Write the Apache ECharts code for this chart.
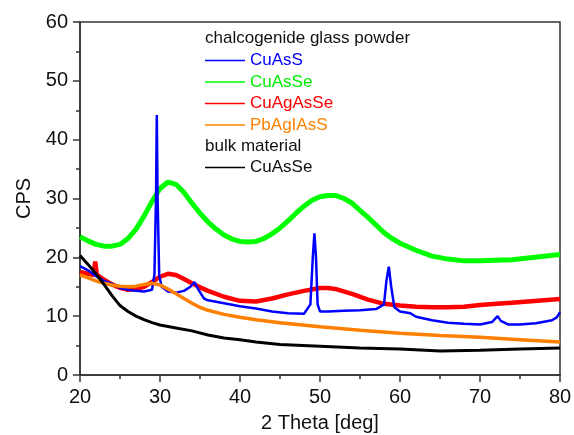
<!DOCTYPE html>
<html>
<head>
<meta charset="utf-8">
<script src="https://cdn.jsdelivr.net/npm/echarts@6/dist/echarts.min.js"></script>
<style>
  html, body { margin: 0; padding: 0; background: #fff; }
  #chart { width: 574px; height: 435px; }
</style>
</head>
<body>
<div id="chart"></div>
<script>
// values (2 Theta in deg, CPS)
const greenX = [20, 21, 22, 23, 24, 25, 26, 27, 28, 29, 30, 31, 32, 33, 34, 35, 36, 37, 38, 39, 40, 41, 42, 43, 44, 45, 46, 47, 48, 49, 50, 51, 52, 53, 54, 55, 56, 57, 58, 59, 60, 62, 64, 66, 68, 70, 72, 74, 76, 78, 80]
const greenY = [23.5, 22.8, 22.2, 21.9, 21.9, 22.2, 23.2, 24.8, 27, 29.5, 31.7, 32.8, 32.4, 31, 29.2, 27.5, 26, 24.8, 23.8, 23.1, 22.7, 22.6, 22.7, 23.2, 24, 25, 26.2, 27.5, 28.7, 29.7, 30.3, 30.5, 30.5, 30, 29.2, 28, 26.8, 25.5, 24.2, 23.2, 22.4, 21.2, 20.2, 19.7, 19.4, 19.4, 19.5, 19.6, 19.9, 20.2, 20.5]

const blueX = [20, 21, 22, 23, 24, 25, 26, 27, 28, 29, 29.3, 29.5, 29.6, 29.7, 29.9, 30.2, 31, 32, 33, 33.8, 34.3, 34.8, 35.5, 36, 38, 40, 42, 44, 46, 48, 48.8, 49.1, 49.3, 49.5, 49.7, 50, 51, 53, 55, 57, 58, 58.3, 58.6, 58.9, 59.3, 60, 61.3, 62, 64, 66, 68, 70, 71.5, 72.2, 72.6, 73.5, 75, 77, 79, 79.6, 80]
const blueY = [18.5, 17.8, 16.8, 16, 15.5, 14.8, 14.5, 14.3, 14.2, 14.5, 17, 30, 44.2, 30, 17, 15, 14.2, 14, 14.3, 15, 15.8, 14.5, 13, 12.7, 12.2, 11.7, 11.3, 10.8, 10.5, 10.4, 12, 20, 24.1, 20, 12, 10.8, 10.8, 10.9, 11, 11.2, 12, 16, 18.4, 15, 11.5, 10.8, 10.5, 9.9, 9.3, 8.9, 8.7, 8.6, 9, 10, 9.2, 8.6, 8.6, 8.8, 9.3, 9.8, 10.7]

const redX = [20, 21, 21.7, 21.9, 22.1, 23, 24, 25, 26, 27, 28, 29, 30, 31, 32, 33, 34, 35, 36, 38, 40, 42, 44, 46, 48, 50, 51, 52, 54, 56, 58, 60, 62, 64, 66, 68, 70, 72, 74, 76, 78, 80]
const redY = [17.5, 17.2, 17, 19.3, 17, 16.2, 15.4, 14.8, 14.5, 14.6, 15, 15.8, 16.7, 17.2, 17, 16.3, 15.6, 14.9, 14.3, 13.3, 12.6, 12.5, 13, 13.7, 14.3, 14.8, 14.8, 14.6, 13.8, 12.8, 12.1, 11.8, 11.6, 11.5, 11.5, 11.6, 11.9, 12.1, 12.3, 12.5, 12.7, 12.9]

const orangeX = [20, 21, 22, 23, 24, 25, 26, 27, 28, 29, 30, 31, 32, 33, 34, 35, 36, 38, 40, 42, 45, 50, 55, 60, 65, 70, 75, 80]
const orangeY = [17, 16.5, 16, 15.6, 15.3, 15.1, 15, 15.1, 15.4, 15.6, 15.3, 14.6, 13.8, 13, 12.2, 11.5, 11, 10.3, 9.8, 9.4, 8.9, 8.2, 7.6, 7.1, 6.7, 6.4, 6, 5.6]

const blackX = [20, 21, 22, 23, 24, 25, 26, 27, 28, 29, 30, 32, 34, 36, 38, 40, 42, 45, 50, 55, 60, 65, 70, 75, 80]
const blackY = [20.3, 18.8, 17.2, 15.4, 13.5, 11.8, 10.8, 10, 9.4, 8.9, 8.5, 8, 7.5, 6.8, 6.3, 6, 5.6, 5.2, 4.9, 4.6, 4.4, 4.1, 4.2, 4.4, 4.6]

const xTicks = [20, 30, 40, 50, 60, 70, 80]
const yTicks = [0, 10, 20, 30, 40, 50, 60]

const zip = (xs, ys) => xs.map((x, i) => [x, ys[i]])

const font = 'Liberation Sans, Arial, sans-serif'
const chart = echarts.init(document.getElementById('chart'))

const line = (name, xs, ys, color, width) => ({
  name,
  type: 'line',
  data: zip(xs, ys),
  showSymbol: false,
  symbol: 'none',
  animation: false,
  lineStyle: { color, width },
  itemStyle: { color }
})

const legendText = (name, color) => ({ name, textStyle: { color } })

const option = {
  animation: false,
  grid: {
    left: 80, right: 14, top: 22, bottom: 60,
    outerBoundsMode: 'none',
    show: true, borderColor: '#333', borderWidth: 1.5
  },
  xAxis: {
    type: 'value',
    min: xTicks[0], max: xTicks[xTicks.length - 1], interval: 10,
    name: '2 Theta [deg]', nameLocation: 'middle', nameGap: 38,
    nameTextStyle: { fontSize: 20, color: '#111', fontFamily: font },
    axisLine: { lineStyle: { color: '#333', width: 1.5 } },
    axisTick: { inside: false, length: 7, lineStyle: { color: '#333', width: 1.5 } },
    minorTick: { show: true, splitNumber: 2, length: 4, lineStyle: { color: '#333', width: 1.5 } },
    axisLabel: { fontSize: 20, color: '#111', margin: 12, fontFamily: font },
    splitLine: { show: false }
  },
  yAxis: {
    type: 'value',
    min: yTicks[0], max: yTicks[yTicks.length - 1], interval: 10,
    name: 'CPS', nameLocation: 'middle', nameGap: 40,
    nameTextStyle: { fontSize: 20, color: '#111', fontFamily: font },
    axisLine: { show: true, lineStyle: { color: '#333', width: 1.5 } },
    axisTick: { show: true, inside: false, length: 7, lineStyle: { color: '#333', width: 1.5 } },
    minorTick: { show: true, splitNumber: 2, length: 4, lineStyle: { color: '#333', width: 1.5 } },
    axisLabel: { fontSize: 20, color: '#111', margin: 12, fontFamily: font },
    splitLine: { show: false }
  },
  legend: [
    {
      orient: 'vertical', left: 205, top: 52, padding: 0, itemGap: 4.5,
      itemWidth: 40, itemHeight: 1.5, icon: 'rect', selectedMode: false,
      textStyle: { fontSize: 17, fontFamily: font },
      data: [
        legendText('CuAsS', '#0000ff'),
        legendText('CuAsSe', '#00ee00'),
        legendText('CuAgAsSe', '#ff0000'),
        legendText('PbAgIAsS', '#ff8000')
      ]
    },
    {
      orient: 'vertical', left: 205, top: 159, padding: 0,
      itemWidth: 40, itemHeight: 1.5, icon: 'rect', selectedMode: false,
      textStyle: { fontSize: 17, fontFamily: font, color: '#111' },
      formatter: name => name.replace(' bulk', ''),
      data: ['CuAsSe bulk']
    }
  ],
  graphic: [
    { type: 'text', left: 205, top: 30, style: { text: 'chalcogenide glass powder', fontSize: 17, fontFamily: font, fill: '#111' } },
    { type: 'text', left: 205, top: 138, style: { text: 'bulk material', fontSize: 17, fontFamily: font, fill: '#111' } }
  ],
  series: [
    line('CuAsSe', greenX, greenY, '#00ff00', 5),
    line('CuAgAsSe', redX, redY, '#ff0000', 4.5),
    line('CuAsS', blueX, blueY, '#0000ff', 2.5),
    line('PbAgIAsS', orangeX, orangeY, '#ff8000', 3.5),
    line('CuAsSe bulk', blackX, blackY, '#000000', 3)
  ]
}

chart.setOption(option)
window.addEventListener('resize', () => chart.resize())
</script>
</body>
</html>
